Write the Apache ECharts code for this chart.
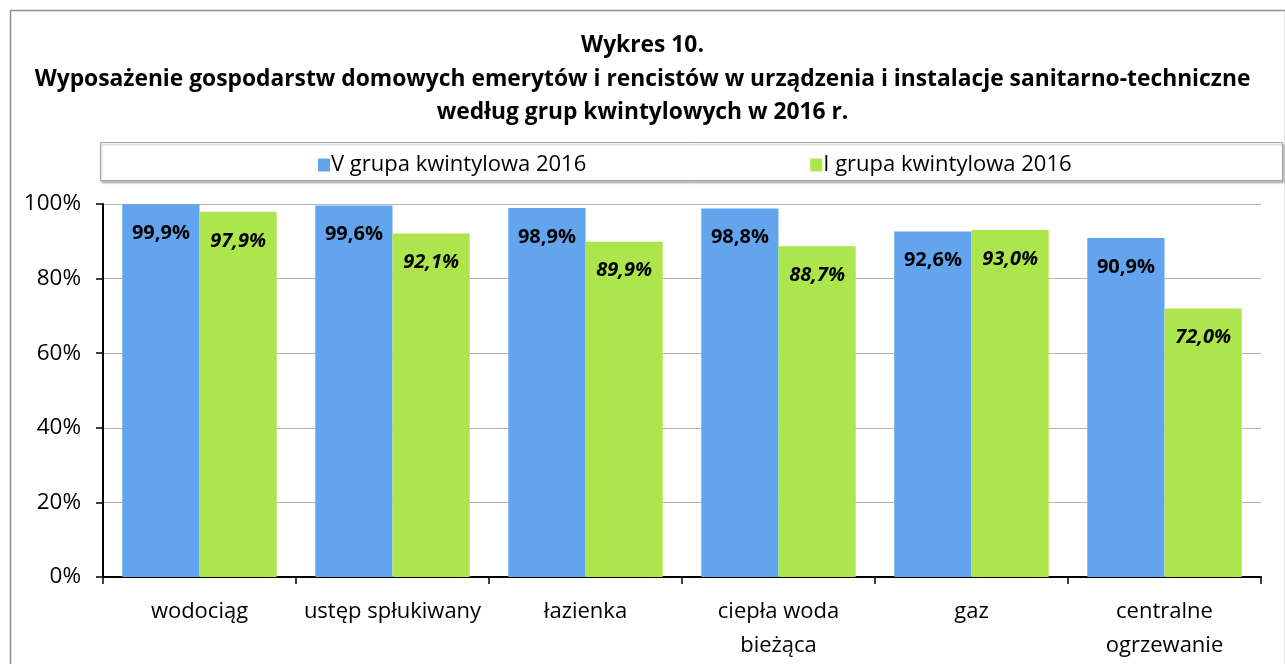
<!DOCTYPE html>
<html><head><meta charset="utf-8">
<script src="https://cdn.jsdelivr.net/npm/echarts@6/dist/echarts.min.js"></script>
<style>html,body{margin:0;padding:0;background:#fff}#c{width:1285px;height:664px}</style>
</head><body><div id="c"></div>
<script>
const categories = ['wodociąg', 'ustęp spłukiwany', 'łazienka', 'ciepła woda\nbieżąca', 'gaz', 'centralne\nogrzewanie'];
const seriesNames = ['V grupa kwintylowa 2016', 'I grupa kwintylowa 2016'];
const groupV = [99.9, 99.6, 98.9, 98.8, 92.6, 90.9];
const groupI = [97.9, 92.1, 89.9, 88.7, 93.0, 72.0];
const yTicks = [0, 20, 40, 60, 80, 100];

const FONT = '"Open Sans", "Noto Sans", sans-serif';
const chart = echarts.init(document.getElementById('c'), null, {renderer: 'canvas'});
const fmt = p => p.value.toFixed(1).replace('.', ',') + '%';
chart.setOption({
  animation: false,
  textStyle: {fontFamily: FONT},
  title: {
    text: 'Wykres 10.\nWyposażenie gospodarstw domowych emerytów i rencistów w urządzenia i instalacje sanitarno-techniczne\nwedług grup kwintylowych w 2016 r.',
    left: 'center', top: 24,
    textStyle: {fontFamily: FONT, fontSize: 22.8, fontWeight: 'bold', color: '#000', lineHeight: 33.5}
  },
  graphic: [
    {type: 'rect', left: 8, top: 8, shape: {width: 1275, height: 660}, style: {fill: 'none', stroke: '#8c8c8c', lineWidth: 1.5}, silent: true, z: -1},
    {type: 'rect', left: 100, top: 142, shape: {width: 1182, height: 38}, style: {fill: '#fff', stroke: '#a6a6a6', lineWidth: 1, shadowColor: 'rgba(0,0,0,0.25)', shadowOffsetX: 1, shadowOffsetY: 2, shadowBlur: 2}, silent: true, z: 0}
  ],
  legend: {
    top: 149, left: 313, itemGap: 224, itemWidth: 12, itemHeight: 13,
    icon: 'rect',
    textStyle: {fontFamily: FONT, fontSize: 22, color: '#000', padding: [0, 0, 0, -4]},
    data: seriesNames, z: 5
  },
  grid: {left: 103, right: 24, top: 204, bottom: 87},
  xAxis: {
    type: 'category', data: categories,
    axisLine: {lineStyle: {color: '#000', width: 2}},
    axisTick: {show: true, length: 7, lineStyle: {color: '#000', width: 1.5}},
    axisLabel: {fontFamily: FONT, fontSize: 22, color: '#000', margin: 18, lineHeight: 34, interval: 0}
  },
  yAxis: {
    type: 'value', min: 0, max: 100, interval: 20,
    axisLine: {show: true, lineStyle: {color: '#000', width: 2}},
    axisTick: {show: true, length: 7, lineStyle: {color: '#000', width: 1.5}},
    splitLine: {lineStyle: {color: '#b3b3b3', width: 1}},
    axisLabel: {fontFamily: FONT, fontSize: 22.5, color: '#000', margin: 22,
      formatter: v => yTicks.includes(v) ? v + '%' : ''}
  },
  series: [
    {name: seriesNames[0], type: 'bar', data: groupV, barGap: '0%', barCategoryGap: '20%',
     itemStyle: {color: '#62a4ee'},
     label: {show: true, position: 'insideTop', distance: 19, formatter: fmt,
       fontFamily: FONT, fontSize: 20, fontWeight: 'bold', color: '#000'}},
    {name: seriesNames[1], type: 'bar', data: groupI,
     itemStyle: {color: '#ade64c'},
     label: {show: true, position: 'insideTop', distance: 19, formatter: fmt,
       fontFamily: FONT, fontSize: 20, fontWeight: 'bold', fontStyle: 'italic', color: '#000'}}
  ]
});
</script></body></html>
